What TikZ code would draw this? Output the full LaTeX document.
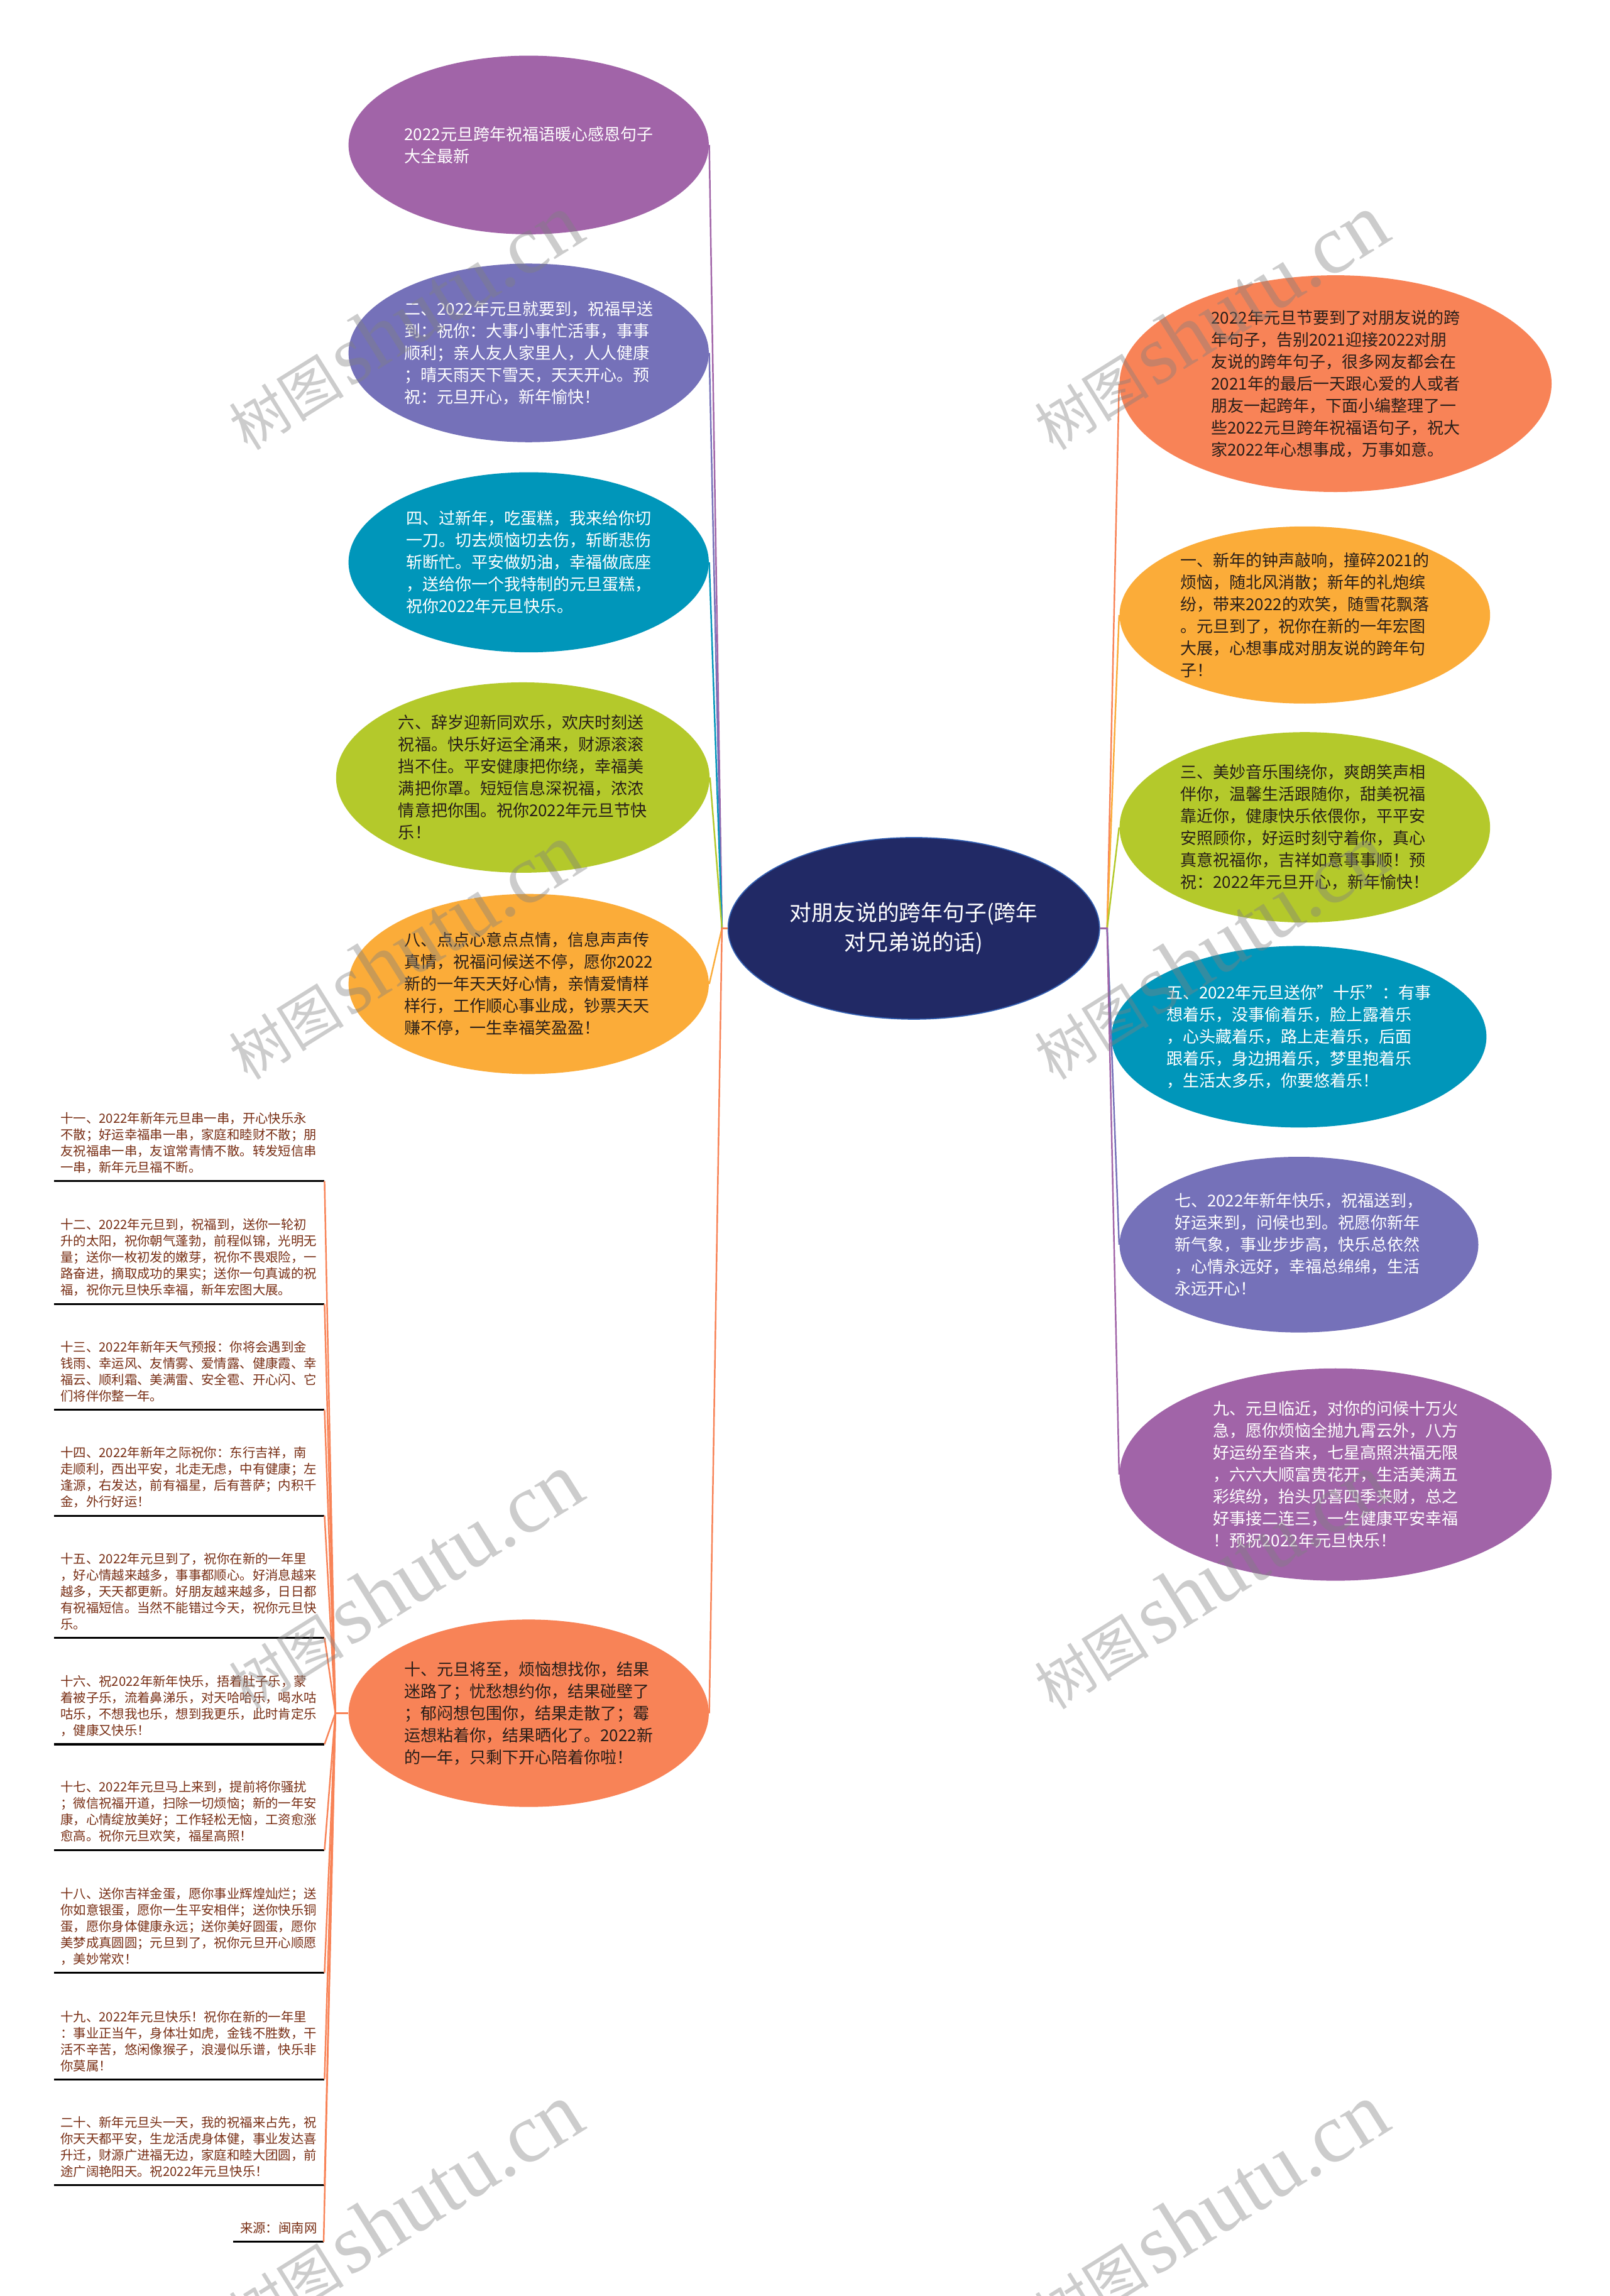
\documentclass[tikz,border=0pt]{standalone}
\usepackage{fontspec}
\setmainfont{Noto Sans CJK SC}
\newfontfamily\wmfont{Liberation Serif}
\usetikzlibrary{shapes.geometric}

\newlength\du
\setlength\du{0.023295cm}

\definecolor{cPurple}{RGB}{161,100,168}
\definecolor{cSlate}{RGB}{117,113,185}
\definecolor{cTeal}{RGB}{0,150,186}
\definecolor{cLime}{RGB}{180,201,43}
\definecolor{cOrange}{RGB}{251,172,57}
\definecolor{cCoral}{RGB}{248,131,87}
\definecolor{cNavy}{RGB}{33,41,101}
\definecolor{cNavyEdge}{RGB}{52,96,178}
\definecolor{cBrown}{RGB}{120,46,20}
\definecolor{cDark}{RGB}{40,30,25}

\tikzset{
  bubble/.style={ellipse, inner sep=0pt, align=left, font=\fontsize{7.4}{9.96}\selectfont},
  wh/.style 2 args={minimum width=#1\du, minimum height=#2\du},
  link/.style={line width=0.7pt},
  item/.style={anchor=south west, inner xsep=4\du, inner ysep=5\du, text width=176\du,
    align=left, text=cBrown, font=\fontsize{5.8}{7.4}\selectfont},
  itemline/.style={line width=0.9pt, black},
  wm/.style={text=gray, opacity=0.4, rotate=32, inner sep=0pt},
}

\begin{document}
\begin{tikzpicture}[x=0.023295cm, y=-0.023295cm]
    \fill[white] (0,0) rectangle (1099,1568);
    \useasboundingbox (0,0) rectangle (1099,1568);

    % centre
    \node[ellipse, wh={248}{124}, fill=cNavy, draw=cNavyEdge, line width=0.5pt, text=white,
          align=center, font=\fontsize{9.9}{13.3}\selectfont] (root) at (624,634)
          {对朋友说的跨年句子(跨年\\对兄弟说的话)};

    % left column
    \node[bubble, wh={246}{122}, fill=cPurple, text=white] (l1) at (361,99)
        {2022元旦跨年祝福语暖心感恩句子\\大全最新};
    \node[bubble, wh={246}{122}, fill=cSlate, text=white] (l2) at (361,241)
        {二、2022年元旦就要到，祝福早送\\到：祝你：大事小事忙活事，事事\\顺利；亲人友人家里人，人人健康\\；晴天雨天下雪天，天天开心。预\\祝：元旦开心，新年愉快！};
    \node[bubble, wh={246}{123}, fill=cTeal, text=white] (l4) at (361,384)
        {四、过新年，吃蛋糕，我来给你切\\一刀。切去烦恼切去伤，斩断悲伤\\斩断忙。平安做奶油，幸福做底座\\，送给你一个我特制的元旦蛋糕，\\祝你2022年元旦快乐。};
    \node[bubble, wh={255}{130}, fill=cLime, text=cDark] (l6) at (357,531)
        {六、辞岁迎新同欢乐，欢庆时刻送\\祝福。快乐好运全涌来，财源滚滚\\挡不住。平安健康把你绕，幸福美\\满把你罩。短短信息深祝福，浓浓\\情意把你围。祝你2022年元旦节快\\乐！};
    \node[bubble, wh={246}{123}, fill=cOrange, text=cDark] (l8) at (361,672)
        {八、点点心意点点情，信息声声传\\真情，祝福问候送不停，愿你2022\\新的一年天天好心情，亲情爱情样\\样行，工作顺心事业成，钞票天天\\赚不停，一生幸福笑盈盈！};
    \node[bubble, wh={246}{128}, fill=cCoral, text=cDark] (l10) at (361,1170)
        {十、元旦将至，烦恼想找你，结果\\迷路了；忧愁想约你，结果碰壁了\\；郁闷想包围你，结果走散了；霉\\运想粘着你，结果晒化了。2022新\\的一年，只剩下开心陪着你啦！};

    % right column
    \node[bubble, wh={295}{148}, fill=cCoral, text=cDark] (r0) at (912,262)
        {2022年元旦节要到了对朋友说的跨\\年句子，告别2021迎接2022对朋\\友说的跨年句子，很多网友都会在\\2021年的最后一天跟心爱的人或者\\朋友一起跨年，下面小编整理了一\\些2022元旦跨年祝福语句子，祝大\\家2022年心想事成，万事如意。};
    \node[bubble, wh={253}{121}, fill=cOrange, text=cDark] (r1) at (891,420)
        {一、新年的钟声敲响，撞碎2021的\\烦恼，随北风消散；新年的礼炮缤\\纷，带来2022的欢笑，随雪花飘落\\。元旦到了，祝你在新的一年宏图\\大展，心想事成对朋友说的跨年句\\子！};
    \node[bubble, wh={253}{130}, fill=cLime, text=cDark] (r3) at (891,565)
        {三、美妙音乐围绕你，爽朗笑声相\\伴你，温馨生活跟随你，甜美祝福\\靠近你，健康快乐依偎你，平平安\\安照顾你，好运时刻守着你，真心\\真意祝福你，吉祥如意事事顺！预\\祝：2022年元旦开心，新年愉快！};
    \node[bubble, wh={245}{124}, fill=cTeal, text=white] (r5) at (887,708)
        {五、2022年元旦送你"十乐"：有事\\想着乐，没事偷着乐，脸上露着乐\\，心头藏着乐，路上走着乐，后面\\跟着乐，身边拥着乐，梦里抱着乐\\，生活太多乐，你要悠着乐！};
    \node[bubble, wh={245}{120}, fill=cSlate, text=white] (r7) at (887,850)
        {七、2022年新年快乐，祝福送到，\\好运来到，问候也到。祝愿你新年\\新气象，事业步步高，快乐总依然\\，心情永远好，幸福总绵绵，生活\\永远开心！};
    \node[bubble, wh={295}{145}, fill=cPurple, text=white] (r9) at (912,1007)
        {九、元旦临近，对你的问候十万火\\急，愿你烦恼全抛九霄云外，八方\\好运纷至沓来，七星高照洪福无限\\，六六大顺富贵花开，生活美满五\\彩缤纷，抬头见喜四季来财，总之\\好事接二连三，一生健康平安幸福\\！预祝2022年元旦快乐！};

    % list under ten
    \node[item] (n11) at (37,806.6) {十一、2022年新年元旦串一串，开心快乐永\\不散；好运幸福串一串，家庭和睦财不散；朋\\友祝福串一串，友谊常青情不散。转发短信串\\一串，新年元旦福不断。};
    \node[item] (n12) at (37,890.6) {十二、2022年元旦到，祝福到，送你一轮初\\升的太阳，祝你朝气蓬勃，前程似锦，光明无\\量；送你一枚初发的嫩芽，祝你不畏艰险，一\\路奋进，摘取成功的果实；送你一句真诚的祝\\福，祝你元旦快乐幸福，新年宏图大展。};
    \node[item] (n13) at (37,962.8) {十三、2022年新年天气预报：你将会遇到金\\钱雨、幸运风、友情雾、爱情露、健康霞、幸\\福云、顺利霜、美满雷、安全雹、开心闪、它\\们将伴你整一年。};
    \node[item] (n14) at (37,1035.1) {十四、2022年新年之际祝你：东行吉祥，南\\走顺利，西出平安，北走无虑，中有健康；左\\逢源，右发达，前有福星，后有菩萨；内积千\\金，外行好运！};
    \node[item] (n15) at (37,1118.5) {十五、2022年元旦到了，祝你在新的一年里\\，好心情越来越多，事事都顺心。好消息越来\\越多，天天都更新。好朋友越来越多，日日都\\有祝福短信。当然不能错过今天，祝你元旦快\\乐。};
    \node[item] (n16) at (37,1191.2) {十六、祝2022年新年快乐，捂着肚子乐，蒙\\着被子乐，流着鼻涕乐，对天哈哈乐，喝水咕\\咕乐，不想我也乐，想到我更乐，此时肯定乐\\，健康又快乐！};
    \node[item] (n17) at (37,1263.5) {十七、2022年元旦马上来到，提前将你骚扰\\；微信祝福开道，扫除一切烦恼；新的一年安\\康，心情绽放美好；工作轻松无恼，工资愈涨\\愈高。祝你元旦欢笑，福星高照！};
    \node[item] (n18) at (37,1347.3) {十八、送你吉祥金蛋，愿你事业辉煌灿烂；送\\你如意银蛋，愿你一生平安相伴；送你快乐铜\\蛋，愿你身体健康永远；送你美好圆蛋，愿你\\美梦成真圆圆；元旦到了，祝你元旦开心顺愿\\，美妙常欢！};
    \node[item] (n19) at (37,1420) {十九、2022年元旦快乐！祝你在新的一年里\\：事业正当午，身体壮如虎，金钱不胜数，干\\活不辛苦，悠闲像猴子，浪漫似乐谱，快乐非\\你莫属！};
    \node[item] (n20) at (37,1492.4) {二十、新年元旦头一天，我的祝福来占先，祝\\你天天都平安，生龙活虎身体健，事业发达喜\\升迁，财源广进福无边，家庭和睦大团圆，前\\途广阔艳阳天。祝2022年元旦快乐！};
    \node[item, anchor=south east, text width=, minimum width=61\du, align=right] (src) at (221,1531) {来源：闽南网};

    \foreach \n in {n11,n12,n13,n14,n15,n16,n17,n18,n19,n20,src}
        \draw[itemline] (\n.south west) -- (\n.south east);

    % connectors
    \coordinate (jl) at (493,634);
    \coordinate (jr) at (756,634);
    \coordinate (jm) at (229,1170);
    \draw[link, cPurple] (root.west) -- (jl) -- (l1.east);
    \draw[link, cSlate] (root.west) -- (jl) -- (l2.east);
    \draw[link, cTeal] (root.west) -- (jl) -- (l4.east);
    \draw[link, cLime] (root.west) -- (jl) -- (l6.east);
    \draw[link, cOrange] (root.west) -- (jl) -- (l8.east);
    \draw[link, cCoral] (root.west) -- (jl) -- (l10.east);
    \draw[link, cCoral] (root.east) -- (jr) -- (r0.west);
    \draw[link, cOrange] (root.east) -- (jr) -- (r1.west);
    \draw[link, cLime] (root.east) -- (jr) -- (r3.west);
    \draw[link, cTeal] (root.east) -- (jr) -- (r5.west);
    \draw[link, cSlate] (root.east) -- (jr) -- (r7.west);
    \draw[link, cPurple] (root.east) -- (jr) -- (r9.west);
    \foreach \n in {n11,n12,n13,n14,n15,n16,n17,n18,n19,n20,src}
        \draw[link, cCoral] (l10.west) -- (jm) -- (\n.south east);

    % watermark
    \foreach \wx/\wy [count=\k] in {276/220,826/220,276/650,826/650,276/1080,826/1080,276/1510,826/1510}
        \node[wm] (wm\k) at (\wx,\wy) {{\fontsize{26}{26}\selectfont 树图} {\wmfont\fontsize{38}{38}\selectfont shutu.cn}};
\end{tikzpicture}
\end{document}
